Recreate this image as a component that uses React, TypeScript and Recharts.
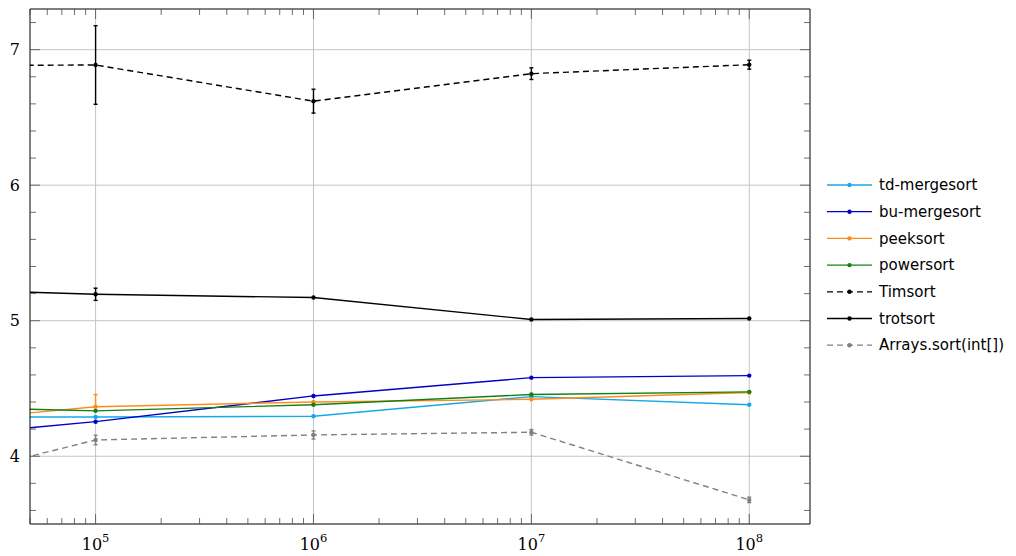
import React from "react";
import {
  LineChart,
  Line,
  XAxis,
  YAxis,
  CartesianGrid,
  ErrorBar,
} from "recharts";

// ---- data ----
const sizes = [1e4, 1e5, 1e6, 1e7, 1e8];
const tdMergesort = [4.29, 4.29, 4.295, 4.44, 4.38];
const buMergesort = [4.105, 4.255, 4.445, 4.58, 4.595];
const peeksort = [4.215, 4.365, 4.4, 4.42, 4.47];
const powersort = [4.375, 4.335, 4.38, 4.455, 4.475];
const timsort = [6.88, 6.887, 6.62, 6.823, 6.889];
const trotsort = [5.245, 5.195, 5.171, 5.009, 5.016];
const arraysSort = [3.72, 4.12, 4.157, 4.177, 3.678];

const timsortErr = [0, 0.29, 0.088, 0.043, 0.033];
const trotsortErr = [0, 0.045, 0, 0, 0];
const peeksortErr: (number[] | number)[] = [0, [0, 0.09], 0, 0, 0];
const arraysSortErr = [0, 0.035, 0.03, 0.02, 0.02];

const xDomain = [5e4, 1.9e8];
const yDomain = [3.5, 7.3];
const yTicks = [3.6, 3.8, 4, 4.2, 4.4, 4.6, 4.8, 5, 5.2, 5.4, 5.6, 5.8, 6, 6.2, 6.4, 6.6, 6.8, 7, 7.2];
const yMajor = [4, 5, 6, 7];
const xMajor = [1e5, 1e6, 1e7, 1e8];
const xTicks: number[] = [];
for (let d = 4; d <= 8; d++) {
  for (let m = 1; m <= 9; m++) {
    const v = m * Math.pow(10, d);
    if (v >= xDomain[0] && v <= xDomain[1]) xTicks.push(v);
  }
}

const series = [
  { key: "td", name: "td-mergesort", color: "#14a9ea", dash: undefined as string | undefined, err: null as string | null },
  { key: "bu", name: "bu-mergesort", color: "#0000c8", dash: undefined, err: null },
  { key: "peek", name: "peeksort", color: "#ff8c1a", dash: undefined, err: "peekErr" },
  { key: "power", name: "powersort", color: "#138013", dash: undefined, err: null },
  { key: "tim", name: "Timsort", color: "#000000", dash: "6 4", err: "timErr" },
  { key: "trot", name: "trotsort", color: "#000000", dash: undefined, err: "trotErr" },
  { key: "arr", name: "Arrays.sort(int[])", color: "#808080", dash: "6 4", err: "arrErr" },
];

const data = sizes.map((n, i) => ({
  n,
  td: tdMergesort[i],
  bu: buMergesort[i],
  peek: peeksort[i],
  power: powersort[i],
  tim: timsort[i],
  trot: trotsort[i],
  arr: arraysSort[i],
  timErr: timsortErr[i],
  trotErr: trotsortErr[i],
  peekErr: peeksortErr[i],
  arrErr: arraysSortErr[i],
}));

const TICK = "#4a4a4a";
const serif = "'DejaVu Serif', 'Liberation Serif', serif";

const isMajorX = (v: number) => xMajor.some((m) => Math.abs(m - v) < 1e-6 * m);
const isMajorY = (v: number) => yMajor.some((m) => Math.abs(m - v) < 1e-9);

const BottomTick = (props: any) => {
  const { x, y, payload } = props;
  const v = payload.value;
  const major = isMajorX(v);
  const exp = Math.round(Math.log10(v));
  return (
    <g>
      <line x1={x} y1={y} x2={x} y2={y - (major ? 10 : 6)} stroke={TICK} strokeWidth={0.8} />
      {major && (
        <text x={x} y={y + 26} textAnchor="middle" fontFamily={serif} fontSize={16} fill="#000">
          <tspan>10</tspan>
          <tspan dy={-8} fontSize={11.5}>{exp}</tspan>
        </text>
      )}
    </g>
  );
};

const TopTick = (props: any) => {
  const { x, y, payload } = props;
  const major = isMajorX(payload.value);
  return <line x1={x} y1={y} x2={x} y2={y + (major ? 10 : 6)} stroke={TICK} strokeWidth={0.8} />;
};

const LeftTick = (props: any) => {
  const { x, y, payload } = props;
  const v = payload.value;
  const major = isMajorY(v);
  return (
    <g>
      <line x1={x} y1={y} x2={x + (major ? 10 : 6)} y2={y} stroke={TICK} strokeWidth={0.8} />
      {major && (
        <text x={x - 10} y={y} dy="0.36em" textAnchor="end" fontFamily={serif} fontSize={16} fill="#000">
          {String(v)}
        </text>
      )}
    </g>
  );
};

const RightTick = (props: any) => {
  const { x, y, payload } = props;
  const major = isMajorY(payload.value);
  return <line x1={x} y1={y} x2={x - (major ? 10 : 6)} y2={y} stroke={TICK} strokeWidth={0.8} />;
};

const LegendBox = () => (
  <svg width={190} height={190} style={{ position: "absolute", left: 825, top: 177 }}>
    {series.map((s, i) => {
      const cy = 8 + i * 26.7;
      return (
        <g key={s.key}>
          <line x1={2} y1={cy} x2={47} y2={cy} stroke={s.color} strokeWidth={1.3} strokeDasharray={s.dash} />
          <circle cx={24.5} cy={cy} r={2.2} fill={s.color} />
          <text x={54} y={cy} dy="0.35em" fontFamily="'DejaVu Sans', sans-serif" fontSize={15} fill="#000">
            {s.name}
          </text>
        </g>
      );
    })}
  </svg>
);

export default function App() {
  return (
    <div style={{ position: "fixed", left: 0, top: 0, width: 1016, height: 556, background: "#fff" }}>
      <LineChart width={1016} height={556} data={data} margin={{ top: 8, right: 205, bottom: 0, left: 0 }}>
        <CartesianGrid
          stroke="#c4c4c4"
          strokeWidth={1}
          horizontalValues={yMajor}
          verticalValues={xMajor}
        />
        <XAxis
          dataKey="n"
          type="number"
          scale="log"
          domain={xDomain}
          allowDataOverflow
          ticks={xTicks}
          interval={0}
          tick={<BottomTick />}
          tickLine={false}
          tickSize={0}
          tickMargin={0}
          height={32}
          axisLine={{ stroke: "#000", strokeWidth: 1 }}
        />
        <XAxis
          xAxisId="top"
          orientation="top"
          dataKey="n"
          type="number"
          scale="log"
          domain={xDomain}
          allowDataOverflow
          ticks={xTicks}
          interval={0}
          tick={<TopTick />}
          tickLine={false}
          tickSize={0}
          tickMargin={0}
          height={1}
          axisLine={{ stroke: "#000", strokeWidth: 1 }}
        />
        <YAxis
          type="number"
          domain={yDomain}
          allowDataOverflow
          ticks={yTicks}
          interval={0}
          tick={<LeftTick />}
          tickLine={false}
          tickSize={0}
          tickMargin={0}
          width={30}
          axisLine={{ stroke: "#000", strokeWidth: 1 }}
        />
        <YAxis
          yAxisId="right"
          orientation="right"
          type="number"
          domain={yDomain}
          allowDataOverflow
          ticks={yTicks}
          interval={0}
          tick={<RightTick />}
          tickLine={false}
          tickSize={0}
          tickMargin={0}
          width={1}
          axisLine={{ stroke: "#000", strokeWidth: 1 }}
        />
        {series.map((s) => (
          <Line
            key={s.key}
            dataKey={s.key}
            name={s.name}
            stroke={s.color}
            strokeWidth={1.4}
            strokeDasharray={s.dash}
            dot={{ r: 2.2, fill: s.color, stroke: s.color, strokeWidth: 0, strokeDasharray: "" }}
            activeDot={false}
            isAnimationActive={false}
          >
            {s.err && (
              <ErrorBar dataKey={s.err} direction="y" width={2} stroke={s.color} strokeWidth={1.4} isAnimationActive={false} />
            )}
          </Line>
        ))}
      </LineChart>
      <LegendBox />
    </div>
  );
}
